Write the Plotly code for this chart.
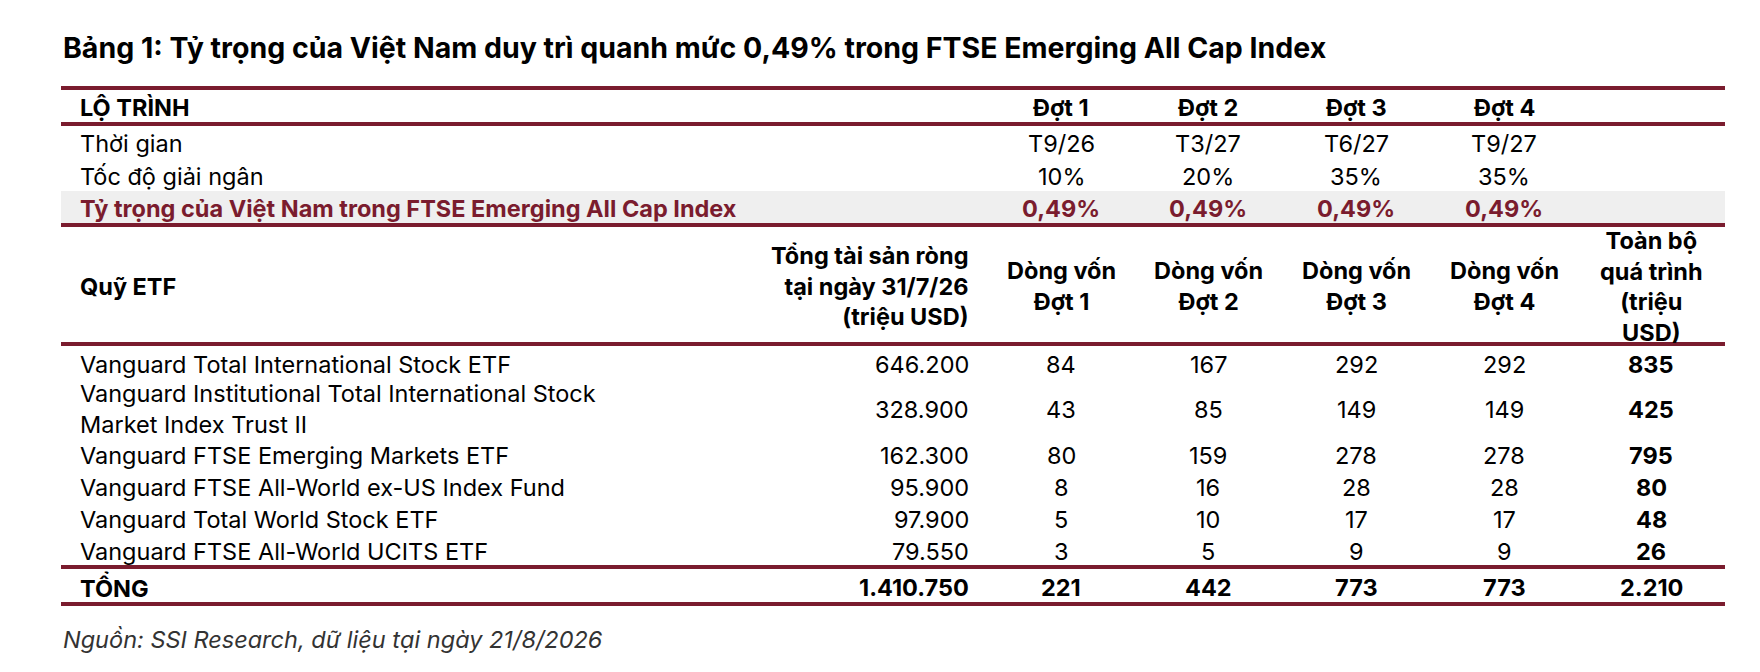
import plotly.graph_objects as go

title = "Bảng 1: Tỷ trọng của Việt Nam duy trì quanh mức 0,49% trong FTSE Emerging All Cap Index"
source = "Nguồn: SSI Research, dữ liệu tại ngày 21/8/2026"

phases = ["Đợt 1", "Đợt 2", "Đợt 3", "Đợt 4"]
timing = ["T9/26", "T3/27", "T6/27", "T9/27"]
speed = ["10%", "20%", "35%", "35%"]
weight = ["0,49%", "0,49%", "0,49%", "0,49%"]

funds = [
    "Vanguard Total International Stock ETF",
    "Vanguard Institutional Total International Stock<br>Market Index Trust II",
    "Vanguard FTSE Emerging Markets ETF",
    "Vanguard FTSE All-World ex-US Index Fund",
    "Vanguard Total World Stock ETF",
    "Vanguard FTSE All-World UCITS ETF",
]
nav = ["646.200", "328.900", "162.300", "95.900", "97.900", "79.550"]
flow1 = [84, 43, 80, 8, 5, 3]
flow2 = [167, 85, 159, 16, 10, 5]
flow3 = [292, 149, 278, 28, 17, 9]
flow4 = [292, 149, 278, 28, 17, 9]
flow_total = [835, 425, 795, 80, 48, 26]
totals = ["1.410.750", "221", "442", "773", "773", "2.210"]

RED = "#7a1c2e"
FONT = "Inter"
FS = 23.5

fig = go.Figure()
ann = []


def txt(x, y, s, anchor="center", bold=False, color="black", size=FS, italic=False):
    if bold:
        s = "<b>" + s + "</b>"
    if italic:
        s = "<i>" + s + "</i>"
    ann.append(dict(x=x, y=y, xref="x", yref="y", text=s, showarrow=False,
                    xanchor=anchor, yanchor="middle", align=anchor if anchor != "center" else "center",
                    font=dict(family=FONT, size=size, color=color)))


cols = [1053, 1200, 1348, 1496]
x_left = 70
x_nav = 963
x_tot = 1643

txt(53, 39, title, "left", bold=True, size=28.5)

# roadmap block
fig.add_shape(type="rect", x0=53, x1=1717, y0=183, y1=216, fillcolor="#efefef", line_width=0, layer="below")
txt(x_left, 99, "LỘ TRÌNH", "left", bold=True)
txt(x_left, 135, "Thời gian", "left")
txt(x_left, 168, "Tốc độ giải ngân", "left")
txt(x_left, 200, "Tỷ trọng của Việt Nam trong FTSE Emerging All Cap Index", "left", bold=True, color=RED)
for i, cx in enumerate(cols):
    txt(cx, 99, phases[i], bold=True)
    txt(cx, 135, timing[i])
    txt(cx, 168, speed[i])
    txt(cx, 200, weight[i], bold=True, color=RED)

# fund table header
txt(x_left, 278, "Quỹ ETF", "left", bold=True)
txt(x_nav, 278, "Tổng tài sản ròng<br>tại ngày 31/7/26<br>(triệu USD)", "right", bold=True)
for i, cx in enumerate(cols):
    txt(cx, 278, "Dòng vốn<br>" + phases[i], bold=True)
txt(x_tot, 278, "Toàn bộ<br>quá trình<br>(triệu<br>USD)", bold=True)

row_y = [356, 401, 447, 479, 511, 543]
for r, y in enumerate(row_y):
    txt(x_left, y, funds[r], "left")
    txt(x_nav, y, nav[r], "right")
    for cx, series in zip(cols, [flow1, flow2, flow3, flow4]):
        txt(cx, y, str(series[r]))
    txt(x_tot, y, str(flow_total[r]), bold=True)

txt(x_left, 579, "TỔNG", "left", bold=True)
txt(x_nav, 579, totals[0], "right", bold=True)
for cx, v in zip(cols + [x_tot], totals[1:]):
    txt(cx, 579, v, bold=True)

txt(53, 631, source, "left", italic=True, color="#333333")

for y, w in [(80, 4), (116, 4), (217, 4), (336, 4), (559, 4), (596, 4)]:
    fig.add_shape(type="line", x0=53, x1=1717, y0=y, y1=y, line=dict(color=RED, width=w))

fig.update_layout(
    width=1760, height=672, margin=dict(l=0, r=0, t=0, b=0),
    paper_bgcolor="white", plot_bgcolor="white", showlegend=False,
    xaxis=dict(range=[0, 1760], visible=False, fixedrange=True),
    yaxis=dict(range=[672, 0], visible=False, fixedrange=True),
    annotations=ann,
)
fig.write_html("out.html")
